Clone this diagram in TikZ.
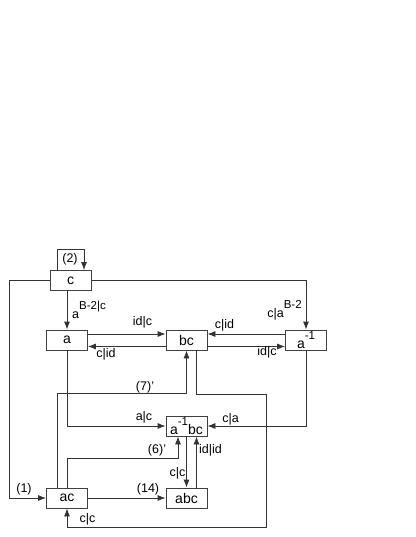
\documentclass[tikz,border=0pt]{standalone}
\usepackage{fontspec}
\setmainfont{Liberation Sans}
\usetikzlibrary{arrows.meta}
\newcommand{\hsup}[1]{\raisebox{0.68em}{\fontsize{11.5}{11.5}\selectfont #1}}

\begin{document}
\begin{tikzpicture}[
  x=1pt, y=-1pt,
  state/.style={draw=black!75, line width=0.8pt, minimum width=41pt, minimum height=20pt, inner sep=0pt, font=\fontsize{14}{14}\selectfont},
  arr/.style={-{Latex[length=8pt,width=6pt]}, line width=0.8pt, draw=black!80},
  lbl/.style={font=\fontsize{12.5}{12.5}\selectfont, inner sep=0pt}
]
  \useasboundingbox (0,0) rectangle (415,537);

  % States
  \node[state] (c)      at ( 70.5, 280.5) {c};
  \node[state] (a)      at ( 67.0, 340.0) {a};
  \node[state] (bc)     at (186.5, 340.0) {bc};
  \node[state] (ainv)   at (306.0, 340.0) {a\hsup{-1}};
  \node[state] (ainvbc) at (186.5, 426.0) {a\hsup{-1}bc};
  \node[state] (ac)     at ( 67.0, 498.0) {ac};
  \node[state] (abc)    at (186.5, 498.0) {abc};

  % Transitions from c
  \draw[arr] ([xshift=-13.5pt]c.north) -- ++(0,-21) -| ([xshift=13.5pt]c.north);
  \draw[arr] (c.west) -| ([xshift=-37pt]ac.west) -- (ac.west);
  \draw[arr] (c.east) -| (ainv.north);
  \draw[arr] (c.south -| a.north) -- (a.north);

  % Top row
  \draw[arr] ([yshift=6pt]a.east) -- ([yshift=6pt]bc.west);
  \draw[arr] ([yshift=-6.5pt]bc.west) -- ([yshift=-6.5pt]a.east);
  \draw[arr] ([yshift=6pt]ainv.west) -- ([yshift=6pt]bc.east);
  \draw[arr] ([yshift=-6.5pt]bc.east) -- ([yshift=-6.5pt]ainv.west);

  % Into a^-1 bc
  \draw[arr] (a.south) |- (ainvbc.west);
  \draw[arr] (ainv.south) |- (ainvbc.east);
  \draw[arr] (ac.north) -- ++(0,-29) -| ([xshift=-8.5pt]ainvbc.south);
  \draw[arr] ([xshift=10pt]abc.north) -- ([xshift=10pt]ainvbc.south);

  % Lower part
  \draw[arr] ([xshift=-10pt]ac.north) -- ++(0,-94) -| (bc.south);
  \draw[arr] ([xshift=9.5pt]bc.south) -- ++(0,44) -- ++(70.5,0) -- ++(0,133) -| (ac.south);
  \draw[arr] (ainvbc.south) -- (abc.north);
  \draw[arr] (ac.east) -- (abc.west);

  % Labels
  \node[lbl] (l2)    at ( 70.0, 259.0) {(2)};
  \node[lbl] (lcab)  at ( 89.0, 310.0) {a\hsup{B-2|c}};
  \node[lbl] (lcai)  at (284.5, 310.5) {c|a\hsup{B-2}};
  \node[lbl] (labc1) at (142.5, 322.0) {id|c};
  \node[lbl] (lbca1) at (106.0, 354.5) {c|id};
  \node[lbl] (lbci1) at (224.5, 325.0) {c|id};
  \node[lbl] (lbci2) at (267.0, 352.0) {id|c};
  \node[lbl] (l7)    at (145.0, 387.0) {(7)'};
  \node[lbl] (lac)   at (144.0, 417.5) {a|c};
  \node[lbl] (lca)   at (230.5, 419.0) {c|a};
  \node[lbl] (l6)    at (157.0, 450.0) {(6)'};
  \node[lbl] (lidid) at (210.5, 450.0) {id|id};
  \node[lbl] (lcc1)  at (177.5, 473.0) {c|c};
  \node[lbl] (l1)    at ( 24.0, 489.0) {(1)};
  \node[lbl] (l14)   at (148.0, 489.0) {(14)};
  \node[lbl] (lcc2)  at ( 87.5, 519.0) {c|c};
\end{tikzpicture}
\end{document}
